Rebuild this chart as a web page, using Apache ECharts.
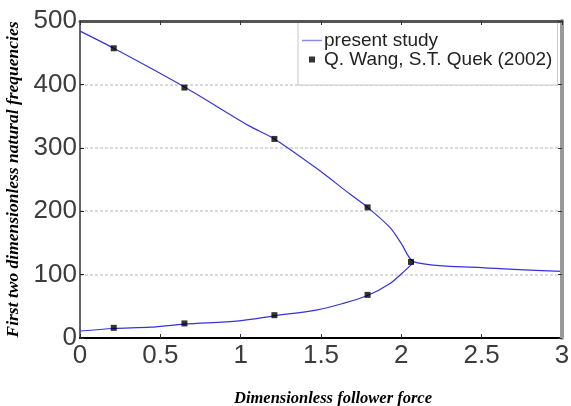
<!DOCTYPE html>
<html>
<head>
<meta charset="utf-8">
<script src="https://cdn.jsdelivr.net/npm/echarts@6/dist/echarts.min.js"></script>
<style>
  html, body { margin: 0; padding: 0; background: #fff; }
  #chart { width: 571px; height: 406px; }
</style>
</head>
<body>
<div id="chart"></div>
<script>
// Upper natural-frequency branch (present study)
const upperForce = [0, 0.21, 0.65, 1.05, 1.21, 1.47, 1.68, 1.79, 1.93, 2.0, 2.08];
const upperFreq  = [484, 457, 396, 335, 314, 268, 227, 206, 174, 149, 120];
// Lower natural-frequency branch (present study)
const lowerForce = [0, 0.21, 0.44, 0.65, 0.99, 1.21, 1.47, 1.63, 1.79, 1.93, 2.0, 2.08];
const lowerFreq  = [11, 15, 17, 22, 27, 35, 44, 54, 67, 86, 101, 120];
// Coalesced branch after flutter onset
const mergedForce = [2.08, 2.5, 3];
const mergedFreq  = [120, 111, 105];
// Reference results, Q. Wang & S.T. Quek (2002)
const refForce = [0.21, 0.65, 1.21, 1.79, 2.06, 0.21, 0.65, 1.21, 1.79];
const refFreq  = [457, 395, 314, 206, 120, 16, 23, 36, 68];

const xTicks = { min: 0, max: 3, interval: 0.5 };
const yTicks = { min: 0, max: 500, interval: 100 };

const zip = (xs, ys) => xs.map((x, i) => [x, ys[i]]);

const lineName = 'present study';
const refName = 'Q. Wang, S.T. Quek (2002)';
const blue = '#3434d8';
const numFont = { fontFamily: 'Liberation Sans', fontSize: 26, color: '#3c3c3c' };
const titleFont = { fontFamily: 'Liberation Serif', fontStyle: 'italic', fontWeight: 'bold', color: '#000' };

const chart = echarts.init(document.getElementById('chart'), null, { renderer: 'canvas' });

chart.setOption({
  animation: false,
  backgroundColor: '#fff',
  grid: { left: 80, right: 9, top: 21, bottom: 68, containLabel: false, outerBoundsMode: 'none' },
  legend: {
    orient: 'vertical',
    left: 298,
    top: 21,
    z: 1,
    padding: [10, 5, 16, 4],
    itemGap: 0,
    itemWidth: 20,
    itemHeight: 6,
    backgroundColor: '#fff',
    borderColor: '#c8c8c8',
    borderWidth: 1,
    borderRadius: 0,
    textStyle: { fontFamily: 'Liberation Sans', fontSize: 19, color: '#222', lineHeight: 18, padding: [0, 0, 0, -3] },
    data: [
      { name: lineName, icon: 'path://M0,0H20V1.5H0Z', itemStyle: { color: '#8a8ae8' } },
      { name: refName, icon: 'path://M0,0H10V10H0Z', itemStyle: { color: '#000' } }
    ]
  },
  xAxis: [
    {
      type: 'value', position: 'bottom', ...xTicks,
      name: 'Dimensionless follower force',
      nameLocation: 'middle', nameGap: 52,
      nameTextStyle: { ...titleFont, fontSize: 16.5, padding: [0, 0, 0, 24] },
      axisLine: { show: true, onZero: false, lineStyle: { color: '#000', width: 2 } },
      axisTick: { show: true, inside: true, length: 4, lineStyle: { color: '#333' } },
      axisLabel: { ...numFont, margin: 5 },
      splitLine: { show: false }
    },
    {
      type: 'value', position: 'top', ...xTicks, z: 5,
      axisLine: { show: true, onZero: false, lineStyle: { color: '#555', width: 3 } },
      axisTick: { show: true, inside: true, length: 4, lineStyle: { color: '#333' } },
      axisLabel: { show: false },
      splitLine: { show: false }
    }
  ],
  yAxis: [
    {
      type: 'value', position: 'left', ...yTicks,
      name: 'First two dimensionless natural frequencies',
      nameLocation: 'middle', nameGap: 52, nameRotate: 90,
      nameTextStyle: { ...titleFont, fontSize: 17.5 },
      axisLine: { show: true, onZero: false, lineStyle: { color: '#666', width: 2 } },
      axisTick: { show: true, inside: true, length: 4, lineStyle: { color: '#222' } },
      axisLabel: { ...numFont, margin: 3 },
      splitLine: { show: true, lineStyle: { color: '#dadada', width: 2, type: [3, 2] } }
    },
    {
      type: 'value', position: 'right', ...yTicks, z: 5,
      axisLine: { show: true, onZero: false, lineStyle: { color: '#999', width: 4 } },
      axisTick: { show: true, inside: true, length: 4, lineStyle: { color: '#333' } },
      axisLabel: { show: false },
      splitLine: { show: false }
    }
  ],
  series: [
    {
      name: lineName, type: 'line', data: zip(upperForce, upperFreq).concat(zip(mergedForce, mergedFreq).slice(1)),
      symbol: 'none', smooth: 0.3, lineStyle: { color: blue, width: 1.2 }, itemStyle: { color: blue }, z: 2
    },
    {
      name: lineName, type: 'line', data: zip(lowerForce, lowerFreq),
      symbol: 'none', smooth: 0.3, lineStyle: { color: blue, width: 1.2 }, itemStyle: { color: blue }, z: 2
    },
    {
      name: refName, type: 'scatter', data: zip(refForce, refFreq),
      symbol: 'rect', symbolSize: 6, itemStyle: { color: '#000' }, z: 3
    }
  ]
});
</script>
</body>
</html>
